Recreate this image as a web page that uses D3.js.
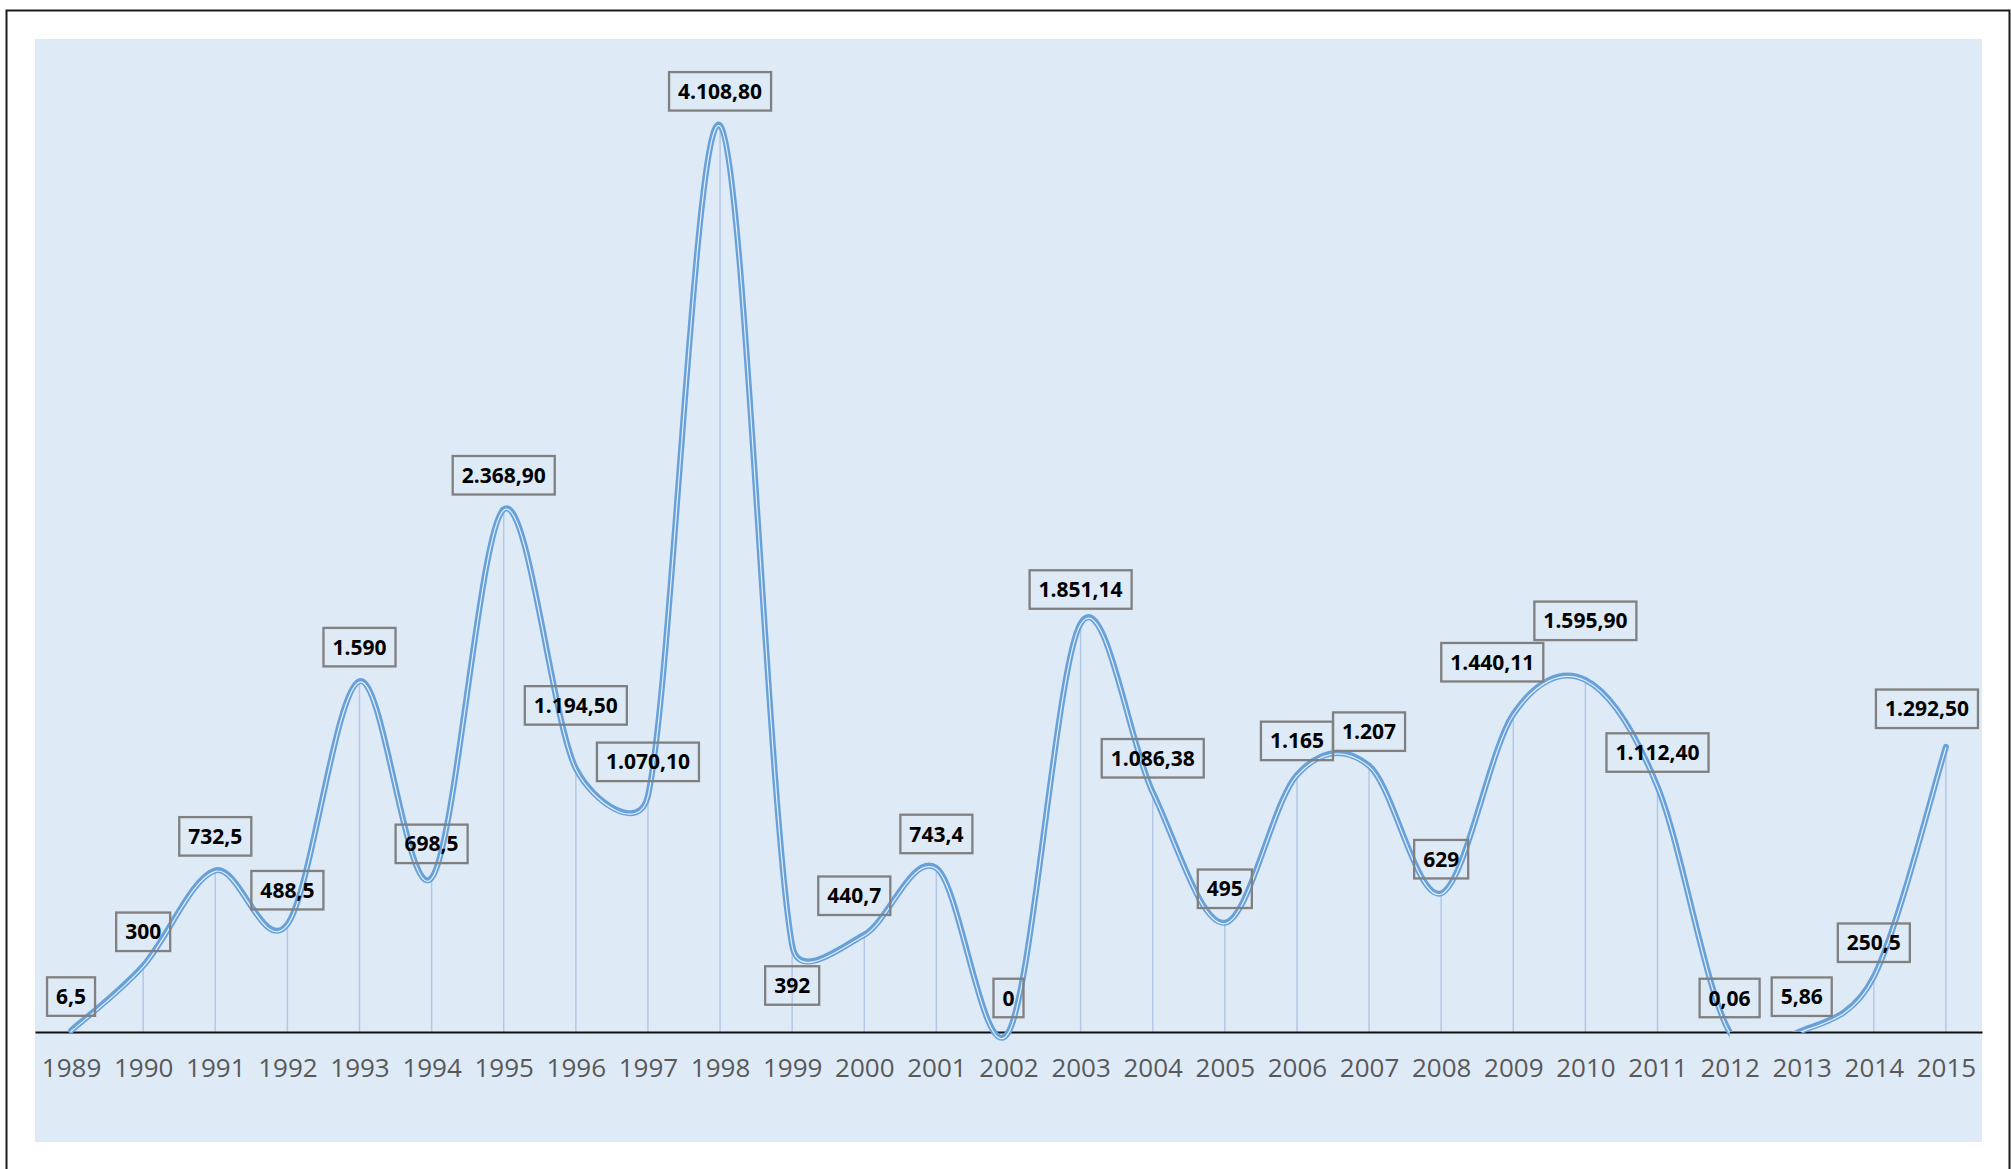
<!DOCTYPE html>
<html>
<head>
<meta charset="utf-8">
<script src="https://cdn.jsdelivr.net/npm/d3@7"></script>
<style>
  html, body { margin: 0; padding: 0; background: #ffffff; }
  svg { display: block; }
</style>
</head>
<body>
<svg id="chart" width="2011" height="1169"></svg>
<script>
// Annual series, 1989–2015
const years = ["1989","1990","1991","1992","1993","1994","1995","1996","1997","1998","1999","2000",
               "2001","2002","2003","2004","2005","2006","2007","2008","2009","2010","2011","2012",
               "2013","2014","2015"];
const values = [6.5, 300, 732.5, 488.5, 1590, 698.5, 2368.9, 1194.5, 1070.1, 4108.8, 392, 440.7,
                743.4, 0, 1851.14, 1086.38, 495, 1165, 1207, 629, 1440.11, 1595.9, 1112.4, 0.06,
                5.86, 250.5, 1292.5];
// number of decimals shown in each value label
const decimals = [1, 0, 1, 1, 0, 1, 2, 2, 2, 2, 0, 1, 1, 0, 2, 2, 0, 0, 0, 0, 2, 2, 2, 2, 2, 1, 2];
const yDomain = [0, 4500];

// ---- layout -------------------------------------------------------------
const W = 2011, H = 1169;
const panel = { x: 35, y: 39, w: 1947, h: 1103 };
const baseY = 1032;               // y of the zero line
const lineColor = "#68a1d9";
const dropColor = "#b4c7e7";

// label nudges (px) for labels that are not in the default "above" spot
const labelNudge = {
  "1996": { dx: 0, dy: -63 },
  "1999": { dx: 0, dy: 40 },
  "2000": { dx: -10, dy: -39 },
  "2009": { dx: -21, dy: -52 },
  "2010": { dx: 0, dy: -59 },
  "2015": { dx: -19, dy: -38 }
};

// ---- spreadsheet-style smoothing ------------------------------------------
// Bezier segments with Catmull-Rom tangents (1/6), where each handle is
// capped at half of its segment's length to limit overshoot.
function smoothSegments(pts) {
  const segs = [], m = pts.length;
  const dist = (a, b) => Math.hypot(b[0] - a[0], b[1] - a[1]);
  for (let i = 0; i < m - 1; i++) {
    const p0 = pts[Math.max(i - 1, 0)], p1 = pts[i], p2 = pts[i + 1], p3 = pts[Math.min(i + 2, m - 1)];
    const d12 = dist(p1, p2), d02 = dist(p0, p2), d13 = dist(p1, p3);
    let f = 1 / 6, g = 1 / 6;
    if (d02 > 0 && d02 / 6 >= d12 / 2) f = d12 / (2 * d02);
    if (d13 > 0 && d13 / 6 >= d12 / 2) g = d12 / (2 * d13);
    const c1 = [p1[0] + f * (p2[0] - p0[0]), p1[1] + f * (p2[1] - p0[1])];
    const c2 = [p2[0] - g * (p3[0] - p1[0]), p2[1] - g * (p3[1] - p1[1])];
    segs.push([p1, c1, c2, p2]);
  }
  return segs;
}
function SmoothCurve(context) { this._context = context; }
SmoothCurve.prototype = {
  areaStart() {}, areaEnd() {},
  lineStart() { this._pts = []; },
  point(px, py) { this._pts.push([+px, +py]); },
  lineEnd() {
    const p = this._pts, c = this._context;
    if (!p.length) return;
    c.moveTo(p[0][0], p[0][1]);
    if (p.length === 2) { c.lineTo(p[1][0], p[1][1]); return; }
    smoothSegments(p).forEach(s => c.bezierCurveTo(s[1][0], s[1][1], s[2][0], s[2][1], s[3][0], s[3][1]));
  }
};
const curveSmooth = context => new SmoothCurve(context);

const svg = d3.select("#chart");

// outer frame
svg.append("rect")
  .attr("x", 6.5).attr("y", 10.5)
  .attr("width", 2003).attr("height", 1200)
  .attr("fill", "#ffffff")
  .attr("stroke", "#1a1a1a").attr("stroke-width", 2);

// chart panel
svg.append("rect")
  .attr("x", panel.x).attr("y", panel.y)
  .attr("width", panel.w).attr("height", panel.h)
  .attr("fill", "#deeaf6");

// ---- scales -------------------------------------------------------------
const x = d3.scalePoint().domain(years).range([panel.x, panel.x + panel.w]).padding(0.5);
const y = d3.scaleLinear().domain(yDomain).range([baseY, panel.y]);

const data = years.map((yr, i) => ({ year: yr, value: values[i], dec: decimals[i] }));

// German-style number format: 1.234,56
const locale = d3.formatLocale({ decimal: ",", thousands: ".", grouping: [3], currency: ["", "€"] });
const fmt = d => locale.format(",." + d.dec + "f")(d.value);

// ---- drop lines ---------------------------------------------------------
svg.append("g")
  .selectAll("line")
  .data(data)
  .join("line")
  .attr("x1", d => x(d.year)).attr("x2", d => x(d.year))
  .attr("y1", d => y(d.value)).attr("y2", y(0))
  .attr("stroke", dropColor).attr("stroke-width", 1.5);

// ---- x axis -------------------------------------------------------------
const axis = svg.append("g")
  .attr("transform", `translate(0,${baseY})`)
  .call(d3.axisBottom(x).tickSize(0).tickSizeOuter(0).tickPadding(26.5));
axis.select(".domain").attr("stroke", "#111111").attr("stroke-width", 2);
axis.selectAll(".tick text")
  .attr("fill", "#595959")
  .style("font-family", "'Open Sans', sans-serif")
  .style("font-size", "26px");

// ---- clip for the smoothed line ----------------------------------------
// A segment may run slightly under the zero line; one that would fall
// further below it is cut at the zero line instead.
const allowance = 10;
const pixelPts = data.map(d => [x(d.year), y(d.value)]);
const segs = smoothSegments(pixelPts);
const clip = svg.append("defs").append("clipPath").attr("id", "lineClip");
segs.forEach((s, i) => {
  let maxY = -Infinity;
  for (let j = 0; j <= 60; j++) {
    const t = j / 60, u = 1 - t;
    const py = u * u * u * s[0][1] + 3 * u * u * t * s[1][1] + 3 * u * t * t * s[2][1] + t * t * t * s[3][1];
    maxY = Math.max(maxY, py);
  }
  const x0 = i === 0 ? 0 : s[0][0];
  const x1 = i === segs.length - 1 ? W : s[3][0];
  const bottom = maxY - baseY > allowance ? baseY : baseY + allowance;
  clip.append("rect").attr("x", x0).attr("y", 0).attr("width", x1 - x0).attr("height", bottom);
});

// ---- smoothed double line ------------------------------------------------
const line = d3.line()
  .x(d => x(d.year))
  .y(d => y(d.value))
  .curve(curveSmooth);

const lineG = svg.append("g").attr("clip-path", "url(#lineClip)");
lineG.append("path")
  .datum(data)
  .attr("d", line)
  .attr("fill", "none")
  .attr("stroke", lineColor)
  .attr("stroke-width", 6)
  .attr("stroke-linecap", "round")
  .attr("stroke-linejoin", "round");
lineG.append("path")
  .datum(data)
  .attr("d", line)
  .attr("transform", "translate(0,1)")
  .attr("fill", "none")
  .attr("stroke", "#e2edf8")
  .attr("stroke-width", 1.2)
  .attr("stroke-linecap", "round");

// ---- value labels -------------------------------------------------------
const labels = svg.append("g")
  .selectAll("g")
  .data(data)
  .join("g")
  .attr("transform", d => {
    const nudge = labelNudge[d.year] || { dx: 0, dy: -34 };
    return `translate(${x(d.year) + nudge.dx},${y(d.value) + nudge.dy})`;
  });

labels.append("text")
  .attr("text-anchor", "middle")
  .attr("dy", "0.36em")
  .attr("fill", "#000000")
  .style("font-family", "'Open Sans', sans-serif")
  .style("font-weight", 700)
  .style("font-size", "21px")
  .text(fmt);

labels.each(function () {
  const g = d3.select(this);
  const w = g.select("text").node().getComputedTextLength() + 18;
  const h = 38.5;
  g.insert("rect", "text")
    .attr("x", -w / 2).attr("y", -h / 2)
    .attr("width", w).attr("height", h)
    .attr("fill", "none")
    .attr("stroke", "#808080")
    .attr("stroke-width", 2.3);
});
</script>
</body>
</html>
